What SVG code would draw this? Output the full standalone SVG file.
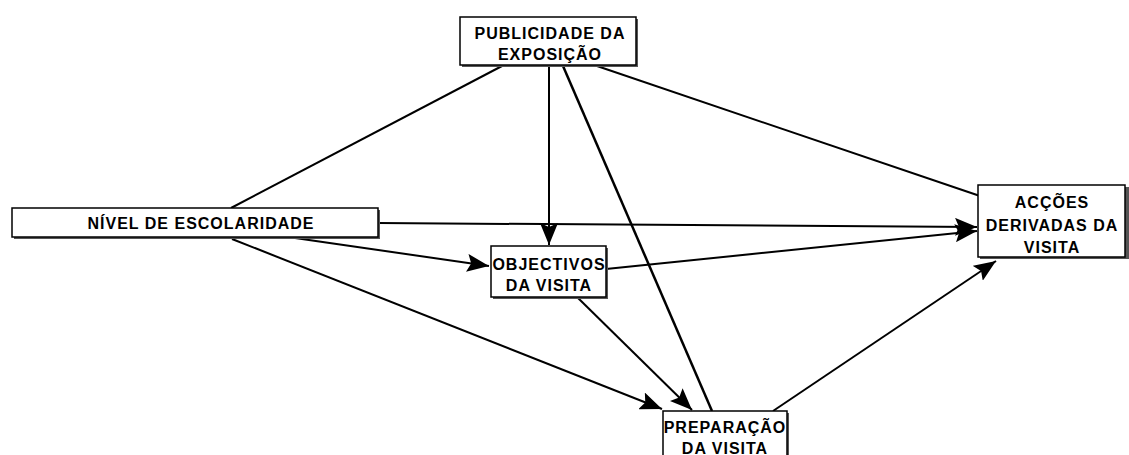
<svg xmlns="http://www.w3.org/2000/svg" width="1129" height="455" viewBox="0 0 1129 455">
<style>
.box{fill:#fff;stroke:#000;stroke-width:1.5}
.sh{fill:#555}
.t{font-family:"Liberation Sans",Arial,sans-serif;font-weight:bold;font-size:16px;letter-spacing:1px;fill:#000;text-anchor:middle}
.c{stroke:#000;stroke-width:2;fill:none}
.a{marker-end:url(#ah)}
</style>
<defs>
<marker id="ah" markerUnits="userSpaceOnUse" markerWidth="24" markerHeight="18" refX="22" refY="9" orient="auto">
<path d="M0,0 L22,9 L0,18 L4,9 Z" fill="#000"/>
</marker>
</defs>
<rect width="1129" height="455" fill="#fff"/>
<g id="connectors">
<line class="c" x1="502" y1="66" x2="231" y2="208"/>
<line class="c a" x1="549" y1="66" x2="549" y2="245"/>
<line class="c" x1="563" y1="66" x2="712" y2="411" style="stroke-width:2.5"/>
<line class="c" x1="597" y1="66" x2="980" y2="196"/>
<line class="c a" x1="378" y1="223" x2="977" y2="227"/>
<line class="c a" x1="295" y1="238" x2="489" y2="266"/>
<line class="c a" x1="232" y1="239" x2="662" y2="409"/>
<line class="c a" x1="606" y1="269" x2="977" y2="231"/>
<line class="c a" x1="577" y1="297" x2="692" y2="410"/>
<line class="c a" x1="773" y1="411" x2="996" y2="261"/>
</g>
<g id="publicidade">
<rect class="sh" x="462" y="19" width="176" height="48"/>
<rect class="box" x="460" y="17" width="176" height="48"/>
<text class="t" x="550" y="39">PUBLICIDADE DA</text>
<text class="t" x="550" y="60">EXPOSIÇÃO</text>
</g>
<g id="nivel">
<rect class="sh" x="14" y="210" width="366" height="29"/>
<rect class="box" x="12" y="208" width="366" height="29"/>
<text class="t" x="201" y="229">NÍVEL DE ESCOLARIDADE</text>
</g>
<g id="objectivos">
<rect class="sh" x="493" y="248" width="115" height="51"/>
<rect class="box" x="491" y="246" width="115" height="51"/>
<text class="t" x="549" y="270">OBJECTIVOS</text>
<text class="t" x="549" y="291">DA VISITA</text>
</g>
<g id="accoes">
<rect class="sh" x="980" y="187" width="149" height="72"/>
<rect class="box" x="978" y="185" width="147" height="72"/>
<text class="t" x="1052" y="208">ACÇÕES</text>
<text class="t" x="1052" y="231">DERIVADAS DA</text>
<text class="t" x="1052" y="253">VISITA</text>
</g>
<g id="preparacao">
<rect class="sh" x="665" y="413" width="124" height="50"/>
<rect class="box" x="663" y="411" width="124" height="50"/>
<text class="t" x="725" y="433">PREPARAÇÃO</text>
<text class="t" x="725" y="454">DA VISITA</text>
</g>
</svg>
